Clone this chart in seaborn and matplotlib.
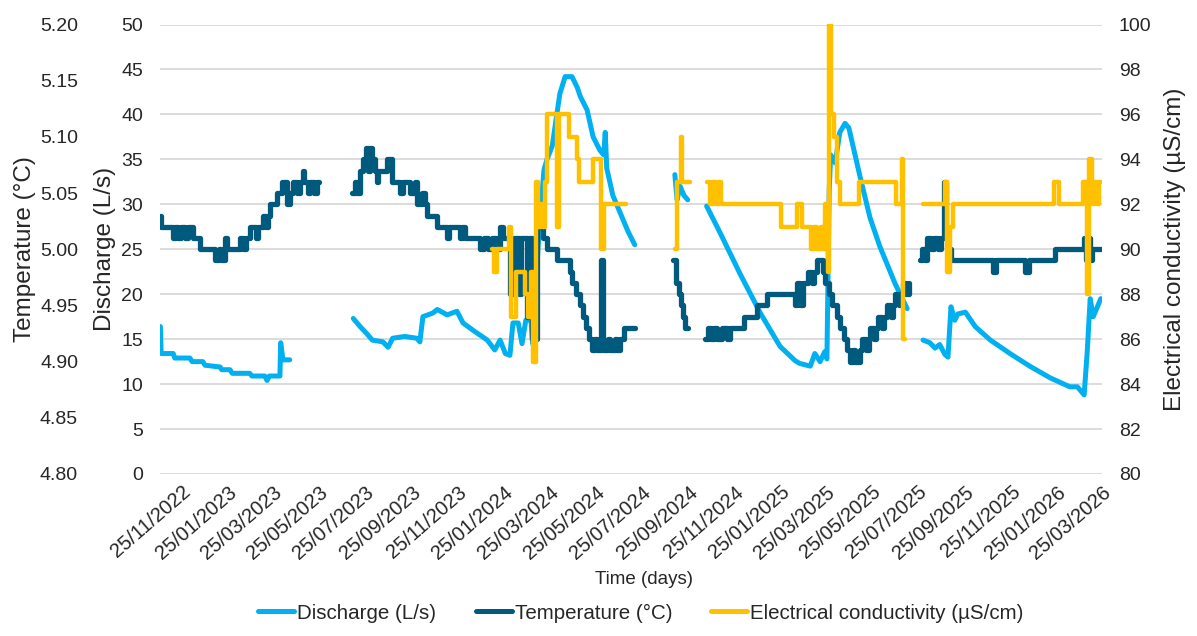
import numpy as np
import pandas as pd
import matplotlib
matplotlib.use("Agg")
import matplotlib.pyplot as plt
import matplotlib.dates as mdates
import matplotlib.transforms as mtransforms
from matplotlib.lines import Line2D
import seaborn as sns

nan = np.nan
start = pd.Timestamp("2022-11-25")

# time in days since 25/11/2022, NaN marks a gap in the record
discharge_day = [-22, -21, -5, -3, 17, 20, 34, 37, 57, 59, 70, 73, 96, 99, 116, 119, 122, 136, 137, 140, 149, nan,
                 233, 242, 251, 258, 272, 279, 285, 301, 317, 321, 325, 338, 344, 357, 370, 378, 391, 410, 420, 427,
                 434, 440, 444, 451, 456, 461, 468, 470, 474, 477, 481, 485, 489, 496, 502, 506, 513, 522, 529, 533,
                 542, 550, 559, 564, 566, 568, 576, 586, 596, 605, nan,
                 658, 661, 665, 670, 675, nan,
                 700, 718, 744, 771, 797, 817, 823, 837, 843, 850, 856, 859, 862, 864, 870, 876, 883, 888, 903, 916,
                 929, 949, 965, nan,
                 986, 995, 1002, 1008, 1015, 1019, 1023, 1028, 1032, 1042, 1055, 1075, 1101, 1127, 1154, 1180, 1190,
                 1194, 1199, 1203, 1207, 1211, 1216, 1221]
discharge_ls = [16.4, 13.4, 13.4, 12.9, 12.9, 12.5, 12.5, 12.1, 11.9, 11.6, 11.6, 11.2, 11.2, 10.9, 10.9, 10.4, 10.9,
                10.9, 14.6, 12.7, 12.7, nan,
                17.3, 16.4, 15.6, 14.9, 14.7, 14.1, 15.1, 15.3, 15.1, 14.7, 17.5, 17.9, 18.3, 17.7, 18.1, 16.8, 16.0,
                14.9, 13.8, 14.9, 13.4, 13.2, 16.8, 16.8, 14.5, 17.1, 17.1, 14.5, 20, 25, 29.7, 33.8, 35, 36.5, 40,
                42.3, 44.2, 44.2, 43, 42, 40.5, 37.5, 36, 35.5, 38, 34, 31, 29, 27, 25.5, nan,
                33.3, 30.5, 32, 31, 30.5, nan,
                29.8, 26.8, 22.3, 17.9, 14.2, 12.6, 12.3, 12.0, 13.4, 12.5, 13.6, 12.8, 31.5, 35.5, 34.6, 38, 39,
                38.5, 33, 28.5, 25.3, 21.2, 18.4, nan,
                14.9, 14.6, 14.0, 14.4, 13.3, 13.0, 18.6, 17.1, 17.8, 18.0, 16.4, 14.9, 13.4, 12.0, 10.7, 9.7, 9.7,
                9.3, 8.8, 13.5, 19.5, 17.5, 18.5, 19.5]

temp_day = [-22, -21, -5, -3, 1, 5, 11, 15, 21, 30, 50, 56, 58, 63, 66, 83, 87, 91, 96, 104, 107, 114, 118, 120, 123,
            132, 139, 145, 149, 153, 159, 163, 167, 168, 173, 176, 181, 185, 188, nan,
            231, 235, 238, 242, 246, 250, 252, 255, 258, 262, 264, 266, 278, 284, 295, 299, 308, 315, 317, 324, 328,
            330, 344, 357, 360, 374, 377, 380, 400, 406, 411, 416, 422, 427, 431, 440, 445, 452, 455, 462, 465, 469,
            476, 479, 484, 489, 502, 519, 522, 527, 533, 537, 541, 545, 548, 552, 555, 561, 563, 570, 572, 579, 582,
            586, 591, 605, nan,
            656, 660, 663, 666, 669, 671, 675, nan,
            698, 702, 706, 710, 714, 720, 727, 731, 750, 766, 780, 817, 820, 823, 827, 834, 839, 842, 846, 854, 857,
            862, 866, 872, 876, 881, 885, 890, 894, 896, 903, 906, 911, 914, 916, 921, 924, 927, 932, 935, 938, 944,
            946, 949, 954, 957, 960, 964, 967, nan,
            982, 985, 989, 991, 997, 1001, 1006, 1010, 1014, 1016, 1019, 1023, 1078, 1083, 1121, 1126, 1160, 1199,
            1201, 1204, 1207, 1209, 1221]
temp_c = [5.03, 5.02, 5.01, 5.02, 5.01, 5.02, 5.01, 5.02, 5.01, 5.00, 4.99, 5.00, 4.99, 5.01, 5.00, 5.01, 5.00, 5.01,
          5.02, 5.01, 5.02, 5.03, 5.02, 5.03, 5.04, 5.05, 5.06, 5.04, 5.05, 5.06, 5.05, 5.06, 5.07, 5.06, 5.05, 5.06,
          5.05, 5.06, 5.06, nan,
          5.05, 5.06, 5.05, 5.07, 5.08, 5.09, 5.07, 5.09, 5.08, 5.07, 5.06, 5.07, 5.08, 5.06, 5.05, 5.06, 5.05, 5.06,
          5.04, 5.05, 5.04, 5.03, 5.02, 5.01, 5.02, 5.01, 5.02, 5.01, 5.00, 5.01, 5.00, 5.01, 5.00, 5.02, 5.01, 4.96,
          5.01, 4.96, 5.01, 4.94, 5.01, 4.92, 5.03, 5.02, 5.01, 5.00, 4.99, 4.98, 4.97, 4.96, 4.95, 4.94, 4.93, 4.92,
          4.91, 4.92, 4.91, 4.99, 4.91, 4.92, 4.91, 4.92, 4.91, 4.92, 4.93, 4.93, nan,
          4.99, 4.97, 4.96, 4.95, 4.94, 4.93, 4.93, nan,
          4.92, 4.93, 4.92, 4.93, 4.92, 4.93, 4.92, 4.93, 4.94, 4.95, 4.96, 4.95, 4.97, 4.95, 4.97, 4.98, 4.97, 4.98,
          4.99, 4.98, 4.97, 4.96, 4.95, 4.94, 4.93, 4.92, 4.91, 4.90, 4.91, 4.90, 4.91, 4.92, 4.91, 4.92, 4.93, 4.92,
          4.93, 4.94, 4.93, 4.94, 4.95, 4.94, 4.95, 4.96, 4.95, 4.96, 4.97, 4.96, 4.97, nan,
          4.99, 5.00, 4.99, 5.01, 5.00, 5.01, 5.00, 5.01, 5.06, 5.01, 5.00, 4.99, 4.98, 4.99, 4.98, 4.99, 5.00, 5.01,
          4.99, 5.01, 4.99, 5.00, 5.00]

ec_day = [416, 419, 423, 439, 441, 448, 460, 464, 468, 470, 474, 477, 481, 484, 486, 489, 502, 505, 518, 529, 531,
          550, 561, 564, 593, nan,
          658, 661, 666, 668, 678, nan,
          700, 704, 708, 712, 716, 719, 798, 819, 826, 838, 842, 846, 851, 855, 857, 860, 862, 864, 868, 872, 876,
          901, 950, 958, 960, 962, nan,
          986, 1015, 1018, 1022, 1026, 1159, 1166, 1197, 1203, 1205, 1209, 1213, 1216, 1218, 1221]
ec_us = [90, 89, 90, 91, 87, 89, 88, 87, 89, 85, 93, 91, 92, 91, 93, 96, 91, 96, 95, 94, 93, 94, 90, 92, 92, nan,
         90, 93, 95, 93, 93, nan,
         93, 92, 93, 92, 93, 92, 91, 92, 91, 90, 91, 90, 91, 90, 92, 89, 100, 96, 95, 93, 92, 93, 92, 94, 86, 86, nan,
         92, 93, 89, 91, 92, 93, 92, 93, 88, 94, 92, 93, 92, 93, 93]

tick_dates = pd.date_range("2022-11-25", "2026-03-25", freq=pd.DateOffset(months=2))

c_dis = "#00B0F0"
c_tmp = "#005A7E"
c_ec = "#FFC000"
c_txt = "#262626"


def to_frame(days, vals):
    df = pd.DataFrame({"day": days, "val": vals})
    df["seg"] = df["val"].isna().cumsum()
    df = df.dropna()
    df["date"] = start + pd.to_timedelta(df["day"], unit="D")
    return df


dis = to_frame(discharge_day, discharge_ls)
tmp = to_frame(temp_day, temp_c)
ec = to_frame(ec_day, ec_us)

sns.set_style("white")
plt.rcParams["font.family"] = ["Liberation Sans", "DejaVu Sans"]
plt.rcParams["text.color"] = c_txt

fig = plt.figure(figsize=(11.97, 6.36), dpi=100)
ax = fig.add_axes([160 / 1197, 1 - 474 / 636, 942 / 1197, 449.5 / 636])
ax_t = ax.twinx()
ax_e = ax.twinx()

sns.lineplot(data=dis, x="date", y="val", units="seg", estimator=None, sort=False,
             color=c_dis, lw=3.6, ax=ax, legend=False)
sns.lineplot(data=tmp, x="date", y="val", units="seg", estimator=None, sort=False,
             color=c_tmp, lw=3.8, ax=ax_t, legend=False, drawstyle="steps-post")
sns.lineplot(data=ec, x="date", y="val", units="seg", estimator=None, sort=False,
             color=c_ec, lw=3.2, ax=ax_e, legend=False, drawstyle="steps-post")

ax.set_xlim(start + pd.Timedelta(days=-22.5), start + pd.Timedelta(days=1222.6))
ax.set_xticks(tick_dates)
ax.xaxis.set_major_formatter(mdates.DateFormatter("%d/%m/%Y"))

ax.set_ylim(0, 50)
ax.set_yticks(range(0, 51, 5))
ax_t.set_ylim(4.80, 5.20)
ax_t.set_yticks(np.round(np.arange(4.80, 5.201, 0.05), 2))
ax_t.yaxis.set_major_formatter(plt.FormatStrFormatter("%.2f"))
ax_e.set_ylim(80, 100)
ax_e.set_yticks(range(80, 101, 2))

ax_t.yaxis.tick_left()
ax_t.yaxis.set_label_position("left")
ax_t.spines["left"].set_position(("outward", 46.8))

for a in (ax, ax_t, ax_e):
    for s in a.spines.values():
        s.set_visible(False)
    a.tick_params(axis="y", length=0, pad=12.2, labelsize=14, labelcolor=c_txt)

ax.grid(axis="y", color="#D9D9D9", lw=1.3)
ax.grid(axis="x", visible=False)
ax.set_axisbelow(True)

ax.tick_params(axis="x", length=0, pad=6, labelsize=14.5, labelrotation=41, labelcolor=c_txt)
shift = mtransforms.ScaledTranslation(5 / 100, 0, fig.dpi_scale_trans)
for lbl in ax.get_xticklabels():
    lbl.set_ha("right")
    lbl.set_rotation_mode("anchor")
    lbl.set_transform(lbl.get_transform() + shift)

ax.set_xlabel("Time (days)", fontsize=13.5)
ax.xaxis.set_label_coords(0.514, -0.216)
ax.set_ylabel("Discharge (L/s)", fontsize=17.5)
ax.yaxis.set_label_coords(-0.0467, 0.5)
ax_t.set_ylabel("Temperature (°C)", fontsize=17.5)
ax_t.yaxis.set_label_coords(-0.1318, 0.5)
ax_e.set_ylabel("Electrical conductivity (µS/cm)", fontsize=17.5)
ax_e.yaxis.set_label_coords(1.0658, 0.5)

handles = [Line2D([0], [0], color=c_dis, lw=3.6),
           Line2D([0], [0], color=c_tmp, lw=3.6),
           Line2D([0], [0], color=c_ec, lw=3.6)]
labels = ["Discharge (L/s)", "Temperature (°C)", "Electrical conductivity (µS/cm)"]
fig.legend(handles, labels, loc="center", bbox_to_anchor=(641 / 1197, 1 - 613 / 636), ncol=3,
           frameon=False, fontsize=14.8, handlelength=1.75, handletextpad=0.15, columnspacing=1.9)

fig.savefig("out.png", dpi=100)
